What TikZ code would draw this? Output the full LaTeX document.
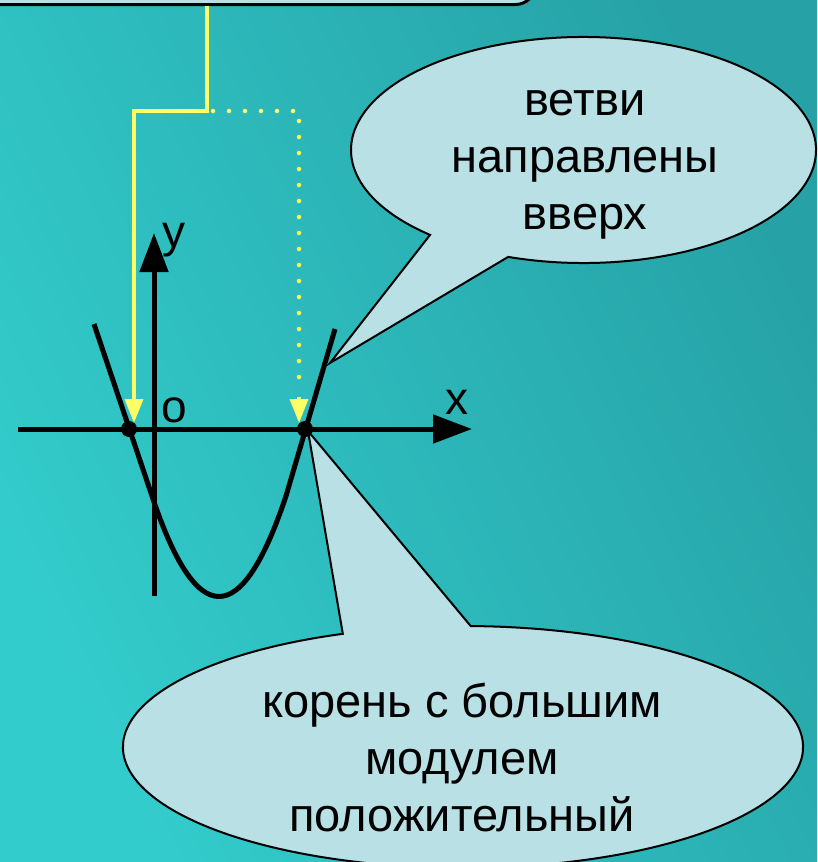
\documentclass[tikz,border=0pt]{standalone}
\usepackage{fontspec}
\setmainfont{Liberation Sans}
\usetikzlibrary{arrows.meta,calc}
\definecolor{bglight}{RGB}{51,204,204}
\definecolor{bgdark}{RGB}{38,162,166}
\definecolor{callfill}{RGB}{185,224,228}
\definecolor{yel}{RGB}{255,255,102}
\begin{document}
\begin{tikzpicture}[x=1pt,y=1pt,
  callshape/.style={draw=black, line width=2, fill=callfill},
  bigtext/.style={font=\fontsize{47}{57}\selectfont, align=center, inner sep=0},
  axislbl/.style={font=\fontsize{46}{50}\selectfont, inner sep=0},
  axisline/.style={line width=5, -{Triangle[width=28pt,length=39pt]}},
  curveline/.style={line width=5, line join=round},
  rootdot/.style={circle, fill=black, minimum size=16pt, inner sep=0},
  yelarrow/.style={draw=yel, line width=3.5, -{Triangle[width=18pt,length=24pt,fill=yel]}},
  yeldots/.style={draw=yel, line width=4.5, line cap=round, dash pattern=on 0pt off 16pt}]
\useasboundingbox (0,0) rectangle (817,-862);
\clip (0,0) rectangle (817,-862);
% background
\shade[left color=bglight, right color=bgdark, shading angle=115] (0,0) rectangle (817,-862);
% top box
\node[callshape, line width=3, rounded corners=20, minimum width=640, minimum height=80, anchor=south east] (topbox) at (537,-6) {};
% callout 1
\coordinate (c1) at (583.5,-150);
\coordinate (tip1) at (330,-363);
\draw[callshape] (c1) ++(251.1:232.5 and 113) arc[start angle=251.1, end angle=588.7, x radius=232.5, y radius=113] -- (tip1) -- cycle;
\node[bigtext] (t1) at (585,-165) {ветви\\направлены\\вверх};
% callout 2
\coordinate (c2) at (463,-747);
\coordinate (tip2) at (308,-431);
\draw[callshape] (c2) ++(110.7:340 and 121) arc[start angle=110.7, end angle=448.7, x radius=340, y radius=121] -- (tip2) -- cycle;
\node[bigtext] (t2) at (462,-757) {корень с большим\\модулем\\положительный};
% axes
\coordinate (xs) at (18,-429);
\coordinate (xe) at (472,-429);
\coordinate (ys) at (154,-596);
\coordinate (ye) at (154,-233);
\draw[axisline] (xs) -- (xe);
\draw[axisline] (ys) -- (ye);
\node[axislbl] (lx) at (457,-402) {x};
\node[axislbl] (ly) at (174,-240) {y};
\node[axislbl] (lo) at (174,-410) {o};
% parabola
\coordinate (pl) at (94,-324);
\coordinate (pa) at (152,-496);
\coordinate (pb) at (286,-496);
\coordinate (pr) at (335,-329);
\draw[curveline] (pl) -- (pa) .. controls (196.7,-630) and (241.3,-630) .. (pb) -- (pr);
\node[rootdot] (r1) at (129,-429) {};
\node[rootdot] (r2) at (305,-429) {};
% yellow connectors
\coordinate (ytop) at (207,-6);
\coordinate (ybend) at (207,-111);
\coordinate (a1) at (134,-423);
\coordinate (a2) at (299,-423);
\coordinate (a2base) at (299,-397);
\coordinate (dstart) at (213,-111);
\coordinate (dend) at (299,-392);
\draw[yelarrow] (ytop) -- (ybend) -| (a1);
\draw[yeldots] (dstart) -| (dend);
\draw[yelarrow] (a2base) -- (a2);
\end{tikzpicture}
\end{document}
